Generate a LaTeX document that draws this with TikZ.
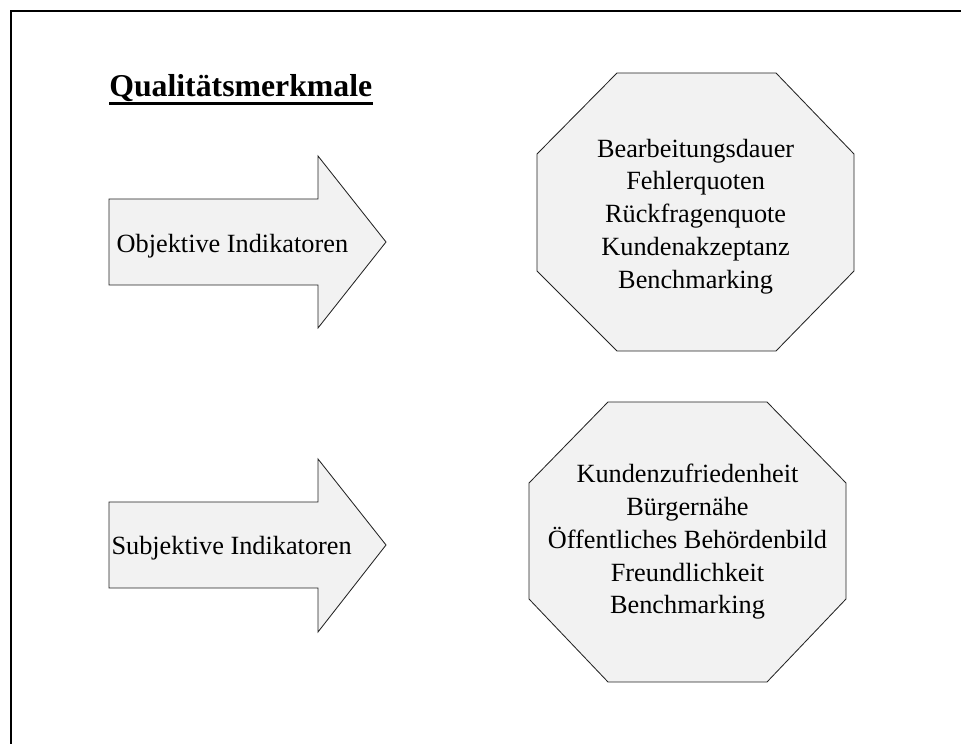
\documentclass[tikz,border=0pt]{standalone}
\usepackage{fontspec}
\setmainfont{Liberation Serif}
\usepackage{tikz}
\usetikzlibrary{positioning}
\definecolor{panelfill}{RGB}{242,242,242}
\definecolor{panelline}{RGB}{35,35,35}

\begin{document}
\begin{tikzpicture}[
  panel/.style={fill=panelfill, draw=panelline, line width=0.6pt, line join=miter},
  arrowtext/.style={font=\fontsize{18.7}{23.3}\selectfont, inner sep=0pt, anchor=base},
  listtext/.style={font=\fontsize{18.7}{23.3}\selectfont, align=center, inner sep=0pt}
]
  \useasboundingbox (0,0) rectangle (24.025,18.6);

  % Frame, open to the right and bottom
  \draw[line width=1.6pt] (0.28,0) -- (0.28,18.32) -- (24.025,18.32);

  % Title
  \node[font=\fontsize{22.6}{27}\selectfont\bfseries, anchor=base west, inner sep=0pt] (title) at (2.725,16.175) {Qualitätsmerkmale};
  \draw[line width=1.6pt] ([yshift=-0.16cm]title.base west) -- ([yshift=-0.16cm]title.base east);

  % Objective indicators
  \draw[panel] (2.725,11.475) -- (2.725,13.625) -- (7.95,13.625) -- (7.95,14.7) -- (9.65,12.55) -- (7.95,10.4) -- (7.95,11.475) -- cycle;
  \node[arrowtext] (objective) at (5.81,12.275) {Objektive Indikatoren};

  \draw[panel] (15.425,16.775) -- (19.4,16.775) -- (21.35,14.75) -- (21.35,11.825) -- (19.4,9.825) -- (15.425,9.825) -- (13.425,11.825) -- (13.425,14.75) -- cycle;
  \node[listtext] (objlist) at (17.39,13.19) {Bearbeitungsdauer\\Fehlerquoten\\Rückfragenquote\\Kundenakzeptanz\\Benchmarking};

  % Subjective indicators
  \draw[panel] (2.725,3.9) -- (2.725,6.05) -- (7.95,6.05) -- (7.95,7.125) -- (9.65,4.975) -- (7.95,2.8) -- (7.95,3.9) -- cycle;
  \node[arrowtext] (subjective) at (5.79,4.725) {Subjektive Indikatoren};

  \draw[panel] (15.2,8.55) -- (19.175,8.55) -- (21.15,6.525) -- (21.15,3.625) -- (19.175,1.55) -- (15.2,1.55) -- (13.225,3.625) -- (13.225,6.525) -- cycle;
  \node[listtext] (subjlist) at (17.1875,5.05) {Kundenzufriedenheit\\Bürgernähe\\Öffentliches Behördenbild\\Freundlichkeit\\Benchmarking};
\end{tikzpicture}
\end{document}
